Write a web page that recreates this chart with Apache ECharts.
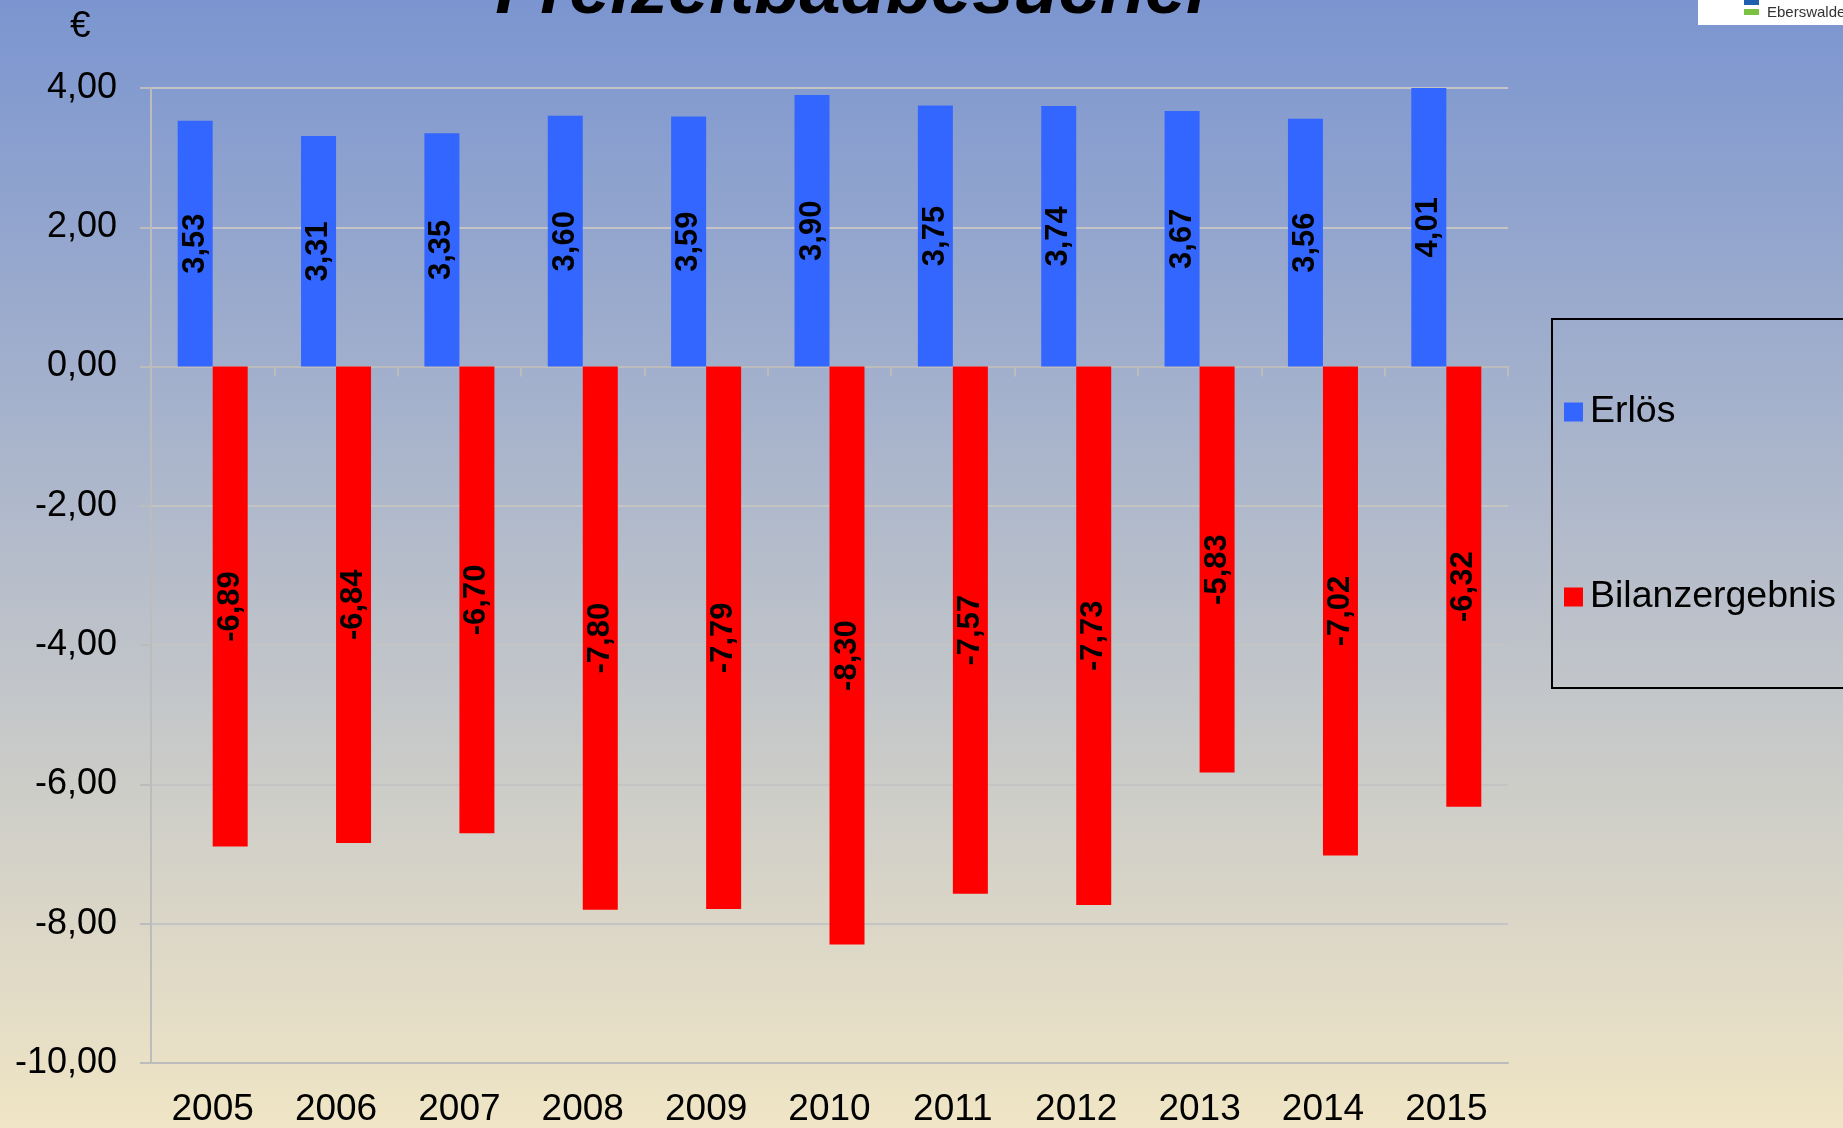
<!DOCTYPE html>
<html>
<head>
<meta charset="utf-8">
<title>Freizeitbadbesucher</title>
<script src="https://cdn.jsdelivr.net/npm/echarts@6/dist/echarts.min.js"></script>
<style>
  html, body { margin: 0; padding: 0; }
  #chart { width: 1843px; height: 1128px; }
</style>
</head>
<body>
<div id="chart"></div>
<script>
// data
const years = ['2005', '2006', '2007', '2008', '2009', '2010', '2011', '2012', '2013', '2014', '2015']
const erloes = [3.53, 3.31, 3.35, 3.60, 3.59, 3.90, 3.75, 3.74, 3.67, 3.56, 4.01]
const bilanz = [-6.89, -6.84, -6.70, -7.80, -7.79, -8.30, -7.57, -7.73, -5.83, -7.02, -6.32]
const yMin = -10
const yMax = 4
const yStep = 2

const font = 'Liberation Sans, Arial, sans-serif'
const deComma = v => Number(v).toFixed(2).replace('.', ',')

const chart = echarts.init(document.getElementById('chart'))

const barLabel = {
  show: true,
  position: 'inside',
  rotate: 90,
  formatter: p => deComma(p.value),
  color: '#000',
  fontFamily: font,
  fontWeight: 'bold',
  fontSize: 31,
}

const option = {
  backgroundColor: {
    type: 'linear', x: 0, y: 0, x2: 0, y2: 1,
    colorStops: [
      { offset: 0, color: '#7b95d0' },
      { offset: 1, color: '#f0e5c5' },
    ],
  },
  animation: false,
  grid: { left: 151, right: 335, top: 88, bottom: 63 },
  legend: {
    orient: 'vertical',
    left: 1559,
    top: 387,
    itemWidth: 19,
    itemHeight: 19,
    itemGap: 145,
    icon: 'rect',
    textStyle: { color: '#000', fontFamily: font, fontSize: 37.5, lineHeight: 40, padding: [0, 0, 0, 2] },
    data: ['Erlös', 'Bilanzergebnis'],
  },
  xAxis: [
    {
      type: 'category',
      data: years,
      position: 'bottom',
      axisLine: { onZero: false, lineStyle: { color: '#bcbcbc', width: 2 } },
      axisTick: { show: false },
      axisLabel: { color: '#000', fontFamily: font, fontSize: 37, margin: 28 },
    },
    {
      type: 'category',
      data: years,
      position: 'bottom',
      axisLine: { onZero: true, lineStyle: { color: '#bcbcbc', width: 2 } },
      axisTick: { show: true, length: 10, lineStyle: { color: '#bcbcbc', width: 2 } },
      axisLabel: { show: false },
    },
  ],
  yAxis: {
    type: 'value',
    min: yMin,
    max: yMax,
    interval: yStep,
    axisLine: { show: true, lineStyle: { color: '#bcbcbc', width: 2 } },
    axisTick: { show: true, length: 11, lineStyle: { color: '#bcbcbc', width: 2 } },
    splitLine: { lineStyle: { color: '#c4c4c4', width: 2 } },
    axisLabel: {
      color: '#000', fontFamily: font, fontSize: 36, margin: 34,
      lineHeight: 44, verticalAlign: 'middle', padding: [6, 0, 0, 0],
      formatter: v => deComma(v),
    },
  },
  series: [
    {
      name: 'Erlös',
      type: 'bar',
      data: erloes,
      barWidth: 35,
      barGap: '0%',
      itemStyle: { color: '#3366ff' },
      label: barLabel,
    },
    {
      name: 'Bilanzergebnis',
      type: 'bar',
      data: bilanz,
      barWidth: 35,
      barGap: '0%',
      itemStyle: { color: '#ff0000' },
      label: barLabel,
    },
  ],
  graphic: [
    {
      type: 'text', left: 70, top: 8,
      style: { text: '€', font: '37px ' + font, fill: '#000' },
    },
    {
      type: 'text', x: 855, y: 30,
      style: {
        text: 'Freizeitbadbesucher',
        font: 'italic bold 74px ' + font,
        fill: '#000',
        align: 'center',
        verticalAlign: 'bottom',
      },
    },
    // legend frame
    {
      type: 'rect', shape: { x: 1552, y: 319, width: 300, height: 369 },
      style: { fill: 'none', stroke: '#000', lineWidth: 2 },
    },
    // logo box top right
    {
      type: 'rect', shape: { x: 1698, y: -2, width: 150, height: 27 },
      style: { fill: '#fff' },
    },
    {
      type: 'rect', shape: { x: 1744, y: 0, width: 15, height: 5 },
      style: { fill: '#1f5fb0' },
    },
    {
      type: 'rect', shape: { x: 1744, y: 9, width: 15, height: 6 },
      style: { fill: '#7cc242' },
    },
    {
      type: 'text', x: 1767, y: 3,
      style: { text: 'Stadt', font: '15px ' + font, fill: '#444', verticalAlign: 'bottom' },
    },
    {
      type: 'text', x: 1767, y: 13,
      style: { text: 'Eberswalde', font: '15px ' + font, fill: '#333', verticalAlign: 'middle' },
    },
  ],
}

chart.setOption(option)
</script>
</body>
</html>
